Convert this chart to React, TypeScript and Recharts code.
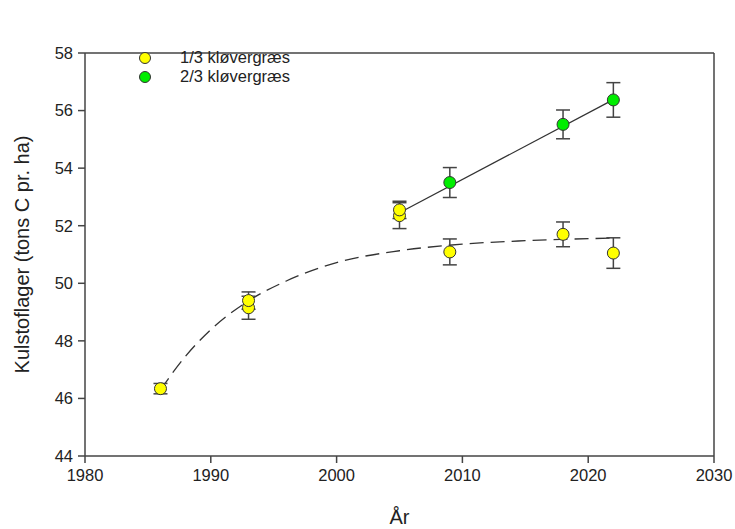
import React from "react"
import {
  ComposedChart,
  Scatter,
  Line,
  XAxis,
  YAxis,
  ErrorBar,
  ReferenceLine,
  Legend,
} from "recharts"

// measured points
const years13 = [1986, 1993, 1993, 2005, 2005, 2009, 2018, 2022]
const values13 = [46.34, 49.15, 49.4, 52.35, 52.55, 51.09, 51.7, 51.05]
const errors13 = [0.18, 0.4, 0.3, 0.45, 0.3, 0.45, 0.43, 0.53]

const years23 = [2009, 2018, 2022]
const values23 = [53.5, 55.52, 56.37]
const errors23 = [0.52, 0.5, 0.6]

// fitted lines
const fitYears13 = [1986, 1988, 1990, 1993, 1996, 2000, 2005, 2010, 2015, 2022]
const fitValues13 = [46.3, 47.47, 48.39, 49.39, 50.08, 50.72, 51.13, 51.36, 51.48, 51.57]
const fitYears23 = [2005, 2022]
const fitValues23 = [52.45, 56.38]

const xTicks = [1980, 1990, 2000, 2010, 2020, 2030]
const yTicks = [44, 46, 48, 50, 52, 54, 56, 58]

const YELLOW = "#ffff00"
const GREEN = "#00ee00"
const AXIS = "#444"
const FONT = "'Liberation Sans', Arial, sans-serif"

const pts13 = years13.map((x, i) => ({ x, y: values13[i], err: errors13[i] }))
const pts23 = years23.map((x, i) => ({ x, y: values23[i], err: errors23[i] }))
const fit13 = fitYears13.map((x, i) => ({ x, y: fitValues13[i] }))
const fit23 = fitYears23.map((x, i) => ({ x, y: fitValues23[i] }))

const dot = (fill: string) => (p: any) =>
  <circle cx={p.cx} cy={p.cy} r={6} fill={fill} stroke="#333" strokeWidth={1} />

const LegendBox = () => (
  <div style={{ fontFamily: FONT, fontSize: 16.5, color: "#222", lineHeight: "19px" }}>
    {[
      { name: "1/3 kløvergræs", c: YELLOW },
      { name: "2/3 kløvergræs", c: GREEN },
    ].map((it) => (
      <div key={it.name} style={{ display: "flex", alignItems: "center" }}>
        <svg width={14} height={14}>
          <circle cx={7} cy={7} r={5.5} fill={it.c} stroke="#333" strokeWidth={1} />
        </svg>
        <span style={{ width: 138, textAlign: "right", display: "inline-block" }}>{it.name}</span>
      </div>
    ))}
  </div>
)

export default function App() {
  return (
    <div style={{ position: "absolute", left: 0, top: 0, background: "#fff" }}>
      <ComposedChart
        width={735}
        height={529}
        margin={{ top: 15, right: 21, left: 0, bottom: 0 }}
      >
        <XAxis
          type="number"
          dataKey="x"
          domain={[1980, 2030]}
          ticks={xTicks}
          allowDataOverflow
          height={73}
          stroke={AXIS}
          strokeWidth={1.5}
          tickSize={7}
          tickMargin={6}
          tick={{ fill: "#222", fontSize: 16.5, fontFamily: FONT }}
          label={{ value: "År", position: "insideBottom", offset: 5, fill: "#222", fontSize: 20, fontFamily: FONT }}
        />
        <YAxis
          type="number"
          dataKey="y"
          domain={[44, 58]}
          ticks={yTicks}
          allowDataOverflow
          width={85}
          stroke={AXIS}
          strokeWidth={1.5}
          tickSize={7}
          tickMargin={5}
          tick={{ fill: "#222", fontSize: 16.5, fontFamily: FONT }}
          label={{
            value: "Kulstoflager (tons C pr. ha)",
            angle: -90,
            position: "insideLeft",
            offset: 22,
            style: { textAnchor: "middle" },
            fill: "#222",
            fontSize: 20,
            fontFamily: FONT,
          }}
        />
        <ReferenceLine y={58} stroke={AXIS} strokeWidth={1.5} />
        <ReferenceLine x={2030} stroke={AXIS} strokeWidth={1.5} />
        <Legend
          verticalAlign="top"
          align="left"
          content={() => <LegendBox />}
          wrapperStyle={{ position: "absolute", left: 138, top: 48, width: 170 }}
        />
        <Line
          data={fit13}
          dataKey="y"
          type="monotone"
          stroke="#333"
          strokeWidth={1.3}
          strokeDasharray="14 7"
          dot={false}
          activeDot={false}
          legendType="none"
          isAnimationActive={false}
        />
        <Line
          data={fit23}
          dataKey="y"
          type="linear"
          stroke="#333"
          strokeWidth={1.3}
          dot={false}
          activeDot={false}
          legendType="none"
          isAnimationActive={false}
        />
        <Scatter
          name="2/3 kløvergræs"
          data={pts23}
          dataKey="y"
          shape={dot(GREEN)}
          isAnimationActive={false}
        >
          <ErrorBar dataKey="err" direction="y" width={7} stroke={AXIS} strokeWidth={1.5} />
        </Scatter>
        <Scatter
          name="1/3 kløvergræs"
          data={pts13}
          dataKey="y"
          shape={dot(YELLOW)}
          isAnimationActive={false}
        >
          <ErrorBar dataKey="err" direction="y" width={7} stroke={AXIS} strokeWidth={1.5} />
        </Scatter>
      </ComposedChart>
    </div>
  )
}
